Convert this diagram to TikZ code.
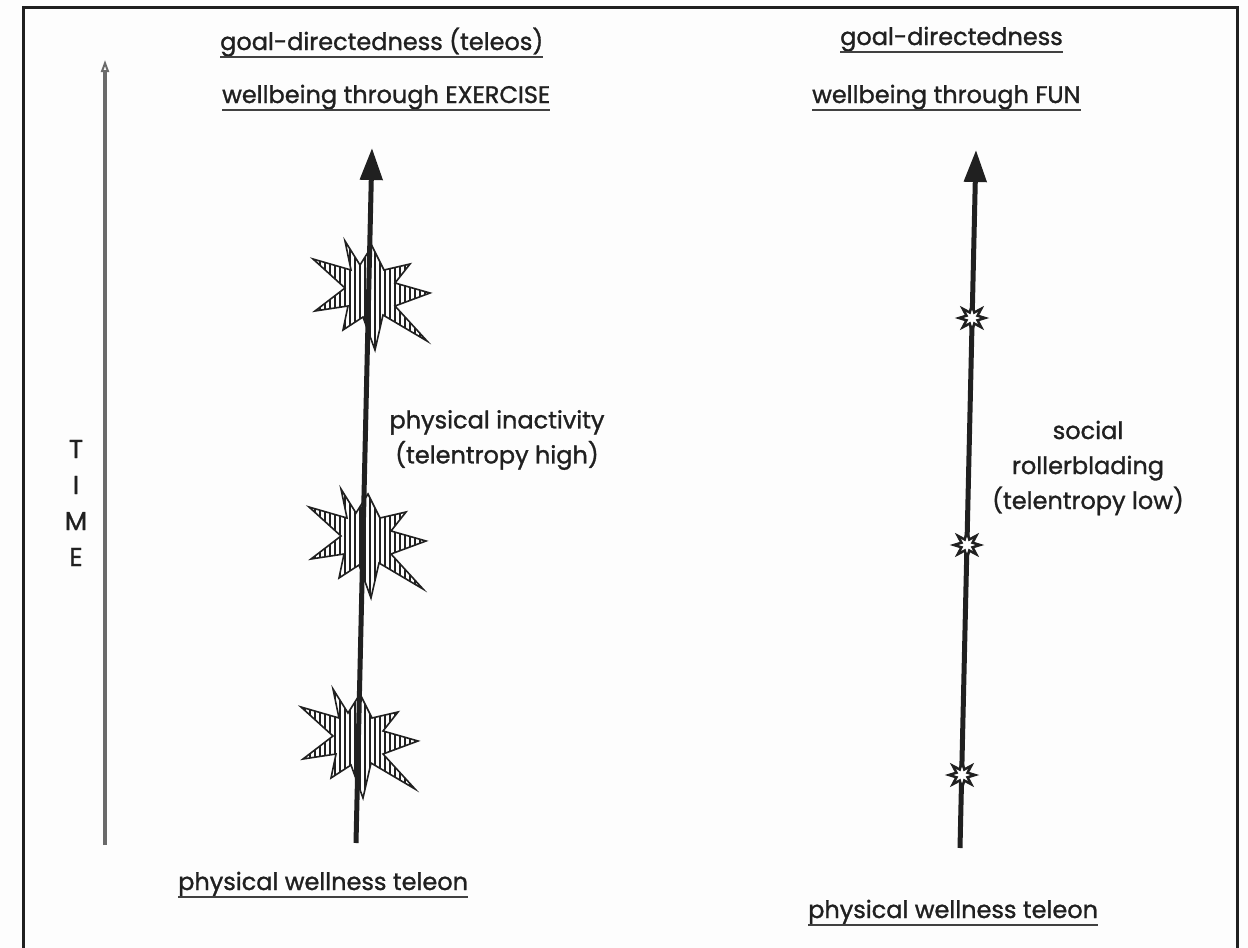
\documentclass[tikz,border=0pt]{standalone}
\usepackage{fontspec}
\setmainfont{Poppins}[FakeBold=1.2]
\usetikzlibrary{arrows.meta,patterns.meta}
\definecolor{ink}{HTML}{202020}
\definecolor{axisgrey}{HTML}{6A6A6A}
\definecolor{paper}{HTML}{FDFDFD}

% irregular hatched starburst, centred at the origin (y grows downwards)
\newcommand\burstoutline{(-25,-51) -- (-10,-27) -- (2,-46) -- (14,-22) -- (40,-28) -- (25,-9) -- (60,1) -- (25,14) -- (57,49) -- (13,23) -- (5,58) -- (-7,25) -- (-27,38) -- (-22,14) -- (-55,19) -- (-25,-4) -- (-57,-33) -- (-19,-22) -- cycle}
% small eight-pointed spark on the FUN arrow
\newcommand\sparkoutline{(0:13) -- (22.5:6) -- (45:13) -- (67.5:6) -- (90:13) -- (112.5:6) -- (135:13) -- (157.5:6) -- (180:13) -- (202.5:6) -- (225:13) -- (247.5:6) -- (270:13) -- (292.5:6) -- (315:13) -- (337.5:6) -- cycle}

\begin{document}
\begin{tikzpicture}[x=1pt,y=-1pt,
  lbl/.style={inner sep=0pt, anchor=base west, text=ink, font=\fontsize{24}{28}\selectfont},
  twoline/.style={inner sep=0pt, align=center, text=ink, font=\fontsize{24}{35}\selectfont},
  uline/.style={line width=2.2pt, draw=ink!85},
  frame/.style={line width=3pt, draw=ink},
  shaft/.style={line width=5pt, draw=ink, -{Triangle[width=22pt,length=32pt]}},
  timeaxis/.style={line width=4pt, draw=axisgrey, -{Triangle[open,width=8pt,length=12pt,line width=2pt]}},
  burst/.style={draw=ink, line width=1.6pt, pattern={Lines[angle=90,distance=5pt,line width=1.1pt]}, pattern color=ink},
  spark/.style={draw=ink, line width=2.5pt, fill=white},
]
% page
\fill[paper] (0,0) rectangle (1248,948);
\useasboundingbox (0,0) rectangle (1248,948);

% frame
\draw[frame] (23,948) -- (23,7) -- (1237,7) -- (1237,948);

% time axis
\coordinate (T0) at (105,845);
\coordinate (T1) at (105,60);
\draw[timeaxis] (T0) -- (T1);
\node[twoline, font=\fontsize{26}{36}\selectfont] (time) at (76,503) {T\\I\\M\\E};

% EXERCISE arrow with its bursts
\coordinate (L0) at (356,843);
\coordinate (L1) at (372,148);
\draw[burst, shift={(370,292)}] \burstoutline;
\draw[burst, shift={(366,540)}] \burstoutline;
\draw[burst, shift={(358,740)}] \burstoutline;
\draw[shaft] (L0) -- (L1);

% FUN arrow with its sparks
\coordinate (R0) at (960,848);
\coordinate (R1) at (976,150);
\draw[shaft] (R0) -- (R1);
\draw[spark, shift={(972,318)}] \sparkoutline;
\draw[spark, shift={(967,545)}] \sparkoutline;
\draw[spark, shift={(962,775)}] \sparkoutline;

% headings
\node[lbl] (g1) at (220,50) {goal-directedness (teleos)};
\node[lbl] (w1) at (222,103) {wellbeing through EXERCISE};
\node[lbl] (g2) at (840,45) {goal-directedness};
\node[lbl] (w2) at (812,103) {wellbeing through FUN};
\node[lbl] (b1) at (178,890) {physical wellness teleon};
\node[lbl] (b2) at (808,918) {physical wellness teleon};
\foreach \n in {g1,w1,g2,w2,b1,b2}
  \draw[uline] ([yshift=-7pt]\n.base west) -- ([yshift=-7pt]\n.base east);

% side notes
\node[twoline] (inact) at (497,440) {physical inactivity\\(telentropy high)};
\node[twoline] (social) at (1088,468) {social\\rollerblading\\(telentropy low)};
\end{tikzpicture}
\end{document}
